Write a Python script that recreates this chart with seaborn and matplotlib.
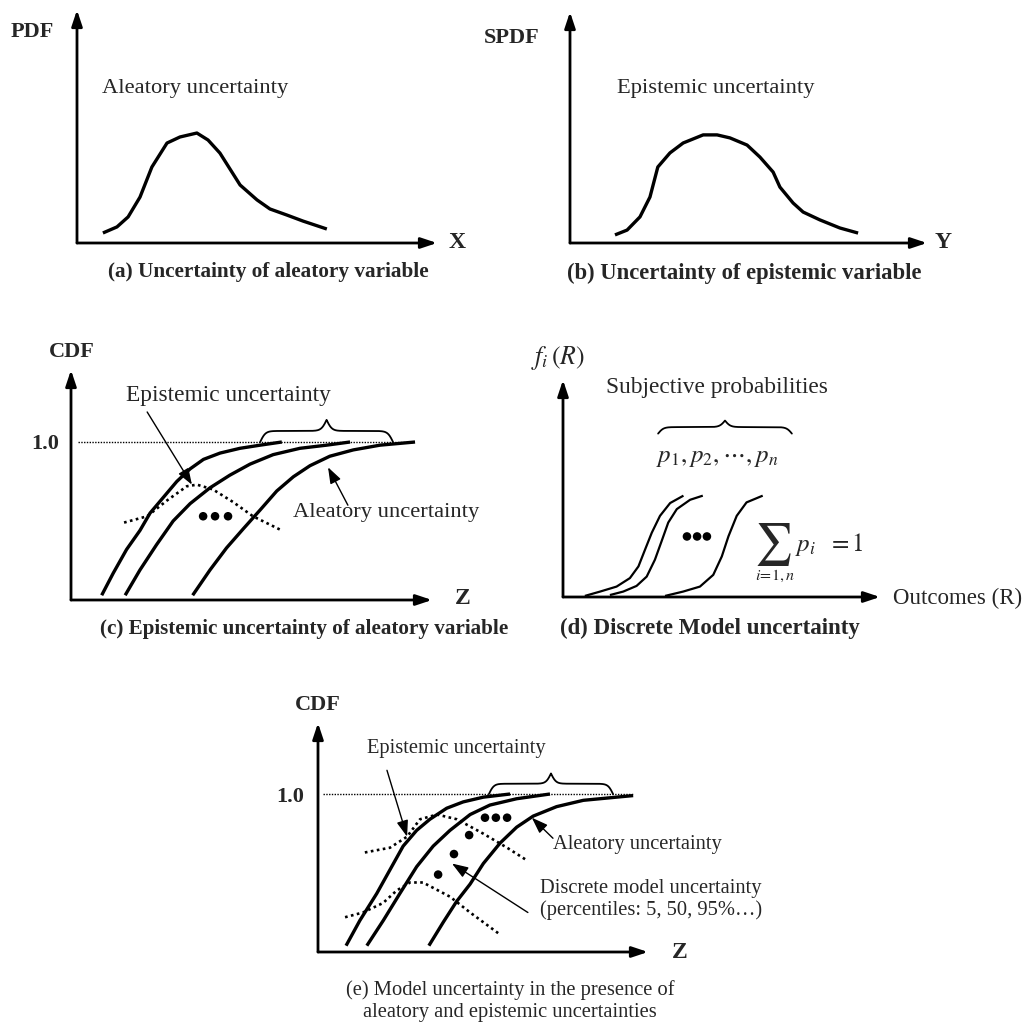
import numpy as np
import pandas as pd
import matplotlib
matplotlib.use("Agg")
import matplotlib.pyplot as plt
import seaborn as sns

# ---------------- data ----------------
# (a) PDF of an aleatory variable X
a_x = [0.72, 1.11, 1.42, 1.75, 2.08, 2.50, 2.86, 3.33, 3.64, 3.97, 4.53, 5.00, 5.36, 5.83, 6.28, 6.94]
a_pdf = [0.043, 0.069, 0.112, 0.197, 0.326, 0.429, 0.455, 0.472, 0.442, 0.386, 0.249, 0.185, 0.146, 0.120, 0.094, 0.060]

# (b) subjective PDF of an epistemic variable Y
b_y = [1.26, 1.60, 1.96, 2.24, 2.46, 2.80, 3.17, 3.73, 4.12, 4.48, 4.96, 5.32, 5.69, 5.88, 6.25, 6.53, 7.00, 7.56, 8.07]
b_spdf = [0.035, 0.056, 0.113, 0.199, 0.329, 0.390, 0.433, 0.468, 0.468, 0.455, 0.424, 0.372, 0.307, 0.242, 0.173, 0.134, 0.100, 0.065, 0.043]

# (c) family of CDFs (epistemic uncertainty of an aleatory variable)
c_z1 = [0.85, 1.17, 1.54, 1.91, 2.19, 2.56, 2.93, 3.30, 3.67, 4.13, 4.68, 5.24, 5.84]
c_cdf1 = [0.03, 0.17, 0.32, 0.44, 0.55, 0.65, 0.75, 0.83, 0.89, 0.93, 0.96, 0.98, 1.00]
c_z2 = [1.50, 1.91, 2.37, 2.83, 3.30, 3.85, 4.40, 4.96, 5.60, 6.34, 7.08, 7.73]
c_cdf2 = [0.03, 0.19, 0.35, 0.50, 0.61, 0.71, 0.79, 0.86, 0.92, 0.96, 0.98, 1.00]
c_z3 = [3.37, 3.85, 4.31, 4.77, 5.24, 5.70, 6.16, 6.62, 7.17, 7.82, 8.56, 9.53]
c_cdf3 = [0.03, 0.19, 0.33, 0.45, 0.57, 0.69, 0.78, 0.85, 0.91, 0.95, 0.98, 1.00]
c_epi_z = [1.47, 2.11, 2.66, 3.21, 3.49, 3.93, 4.49, 5.04, 5.84]
c_epi = [0.49, 0.53, 0.63, 0.72, 0.73, 0.70, 0.62, 0.53, 0.44]
c_dots_z = [3.66, 3.99, 4.35]
c_dots = [0.53, 0.53, 0.53]

# (d) discrete model outcomes
d_r1 = [0.69, 1.17, 1.69, 2.11, 2.38, 2.59, 2.80, 3.06, 3.38, 3.80]
d_f1 = [0.005, 0.025, 0.048, 0.087, 0.141, 0.219, 0.296, 0.374, 0.433, 0.467]
d_r2 = [1.48, 1.90, 2.32, 2.64, 2.90, 3.11, 3.32, 3.59, 4.01, 4.41]
d_f2 = [0.009, 0.025, 0.051, 0.094, 0.172, 0.257, 0.343, 0.405, 0.448, 0.467]
d_r3 = [3.22, 3.79, 4.32, 4.74, 5.01, 5.22, 5.48, 5.79, 6.30]
d_f3 = [0.005, 0.025, 0.048, 0.102, 0.187, 0.280, 0.374, 0.436, 0.467]
d_dots_r = [3.91, 4.23, 4.54]
d_dots = [0.279, 0.279, 0.279]

# (e) model uncertainty with aleatory and epistemic uncertainties
e_z1 = [0.85, 1.27, 1.78, 2.18, 2.58, 2.99, 3.39, 3.90, 4.40, 5.01, 5.82]
e_cdf1 = [0.04, 0.20, 0.37, 0.52, 0.67, 0.77, 0.84, 0.91, 0.95, 0.98, 1.00]
e_z2 = [1.48, 1.98, 2.48, 2.99, 3.49, 4.00, 4.61, 5.21, 6.02, 7.03]
e_cdf2 = [0.04, 0.20, 0.37, 0.54, 0.67, 0.77, 0.87, 0.93, 0.97, 1.00]
e_z3 = [3.36, 3.80, 4.20, 4.61, 5.01, 5.52, 6.02, 6.52, 7.23, 8.04, 9.55]
e_cdf3 = [0.04, 0.19, 0.32, 0.43, 0.56, 0.69, 0.79, 0.86, 0.92, 0.96, 0.99]
e_epiU_z = [1.42, 2.18, 2.70, 3.09, 3.61, 4.21, 5.00, 5.73, 6.33]
e_epiU = [0.63, 0.66, 0.73, 0.84, 0.87, 0.84, 0.75, 0.66, 0.58]
e_epiL_z = [0.82, 1.36, 1.97, 2.39, 2.79, 3.18, 4.00, 4.61, 5.52]
e_epiL = [0.22, 0.25, 0.31, 0.39, 0.44, 0.44, 0.35, 0.25, 0.11]
e_dots_z = [5.06, 5.39, 5.73, 4.58, 4.12, 3.64]
e_dots = [0.85, 0.85, 0.85, 0.74, 0.62, 0.49]

# ---------------- style ----------------
sns.set_theme(style="white")
plt.rcParams["font.family"] = ["Liberation Serif", "DejaVu Serif"]
plt.rcParams["mathtext.fontset"] = "stix"

W, H = 1031, 1025
fig = plt.figure(figsize=(W / 100, H / 100), dpi=100)
fig.patch.set_facecolor("white")

FS = 16.2
FSE = 14.8


def panel(x0, y0, x1, y1, ymax):
    """axes whose lower-left is the axis origin (x0,y0 px) and extends to arrow tips"""
    ax = fig.add_axes([x0 / W, 1 - y0 / H, (x1 - x0) / W, (y0 - y1) / H])
    ax.set_xlim(0, 10)
    ax.set_ylim(0, ymax)
    ax.axis("off")
    akw = dict(arrowstyle="-|>,head_length=0.6,head_width=0.2", lw=2.0, color="black",
               mutation_scale=16, shrinkA=0, shrinkB=0)
    ax.annotate("", xy=(1, 0), xytext=(0, 0), xycoords="axes fraction", arrowprops=akw,
                annotation_clip=False)
    ax.annotate("", xy=(0, 1), xytext=(0, 0), xycoords="axes fraction", arrowprops=akw,
                annotation_clip=False)
    return ax


def ptext(px, py, s, **kw):
    kw.setdefault("fontsize", FS)
    kw.setdefault("va", "center")
    fig.text(px / W, 1 - py / H, s, **kw)


def curve(ax, x, y, lw=2.4, dotted=False):
    ls = (0, (1, 1.3)) if dotted else "-"
    sns.lineplot(x=x, y=y, ax=ax, color="black", lw=(1.9 if dotted else lw), sort=False,
                 estimator=None, linestyle=ls, legend=False)
    ln = ax.lines[-1]
    ln.set_clip_on(False)
    ln.set_solid_joinstyle("round")
    ln.set_solid_capstyle("butt")


def brace(ax, x1, x2, ybase, h):
    n = 401
    x = np.linspace(x1, x2, n)
    half = x[: n // 2 + 1]
    beta = 50.0 / (x2 - x1)
    yh = 1 / (1 + np.exp(-beta * (half - half[0]))) + 1 / (1 + np.exp(-beta * (half - half[-1])))
    yy = np.concatenate((yh, yh[-2::-1]))
    ax.plot(x, ybase + (yy - 0.5) * h, color="black", lw=1.3, clip_on=False)


def arrow(ax, tail, head):
    ax.annotate("", xy=head, xytext=tail,
                arrowprops=dict(arrowstyle="-|>,head_length=0.7,head_width=0.25", lw=1.0,
                                color="black", mutation_scale=14, shrinkA=0, shrinkB=0),
                annotation_clip=False)


# ---------------- (a) ----------------
axa = panel(77, 243, 437, 10, 1.0)
curve(axa, a_x, a_pdf)
ptext(32, 32, "PDF", ha="center", fontweight="bold", fontsize=16)
ptext(457, 243, "X", ha="center", fontweight="bold", fontsize=17)
ptext(102, 88, "Aleatory uncertainty")
ptext(108, 272, "(a) Uncertainty of aleatory variable", fontweight="bold", fontsize=15.3)

# ---------------- (b) ----------------
axb = panel(570, 243, 927, 12, 1.0)
curve(axb, b_y, b_spdf)
ptext(512, 38, "SPDF", ha="center", fontweight="bold", fontsize=16)
ptext(943, 243, "Y", ha="center", fontweight="bold", fontsize=17)
ptext(617, 89, "Epistemic uncertainty")
ptext(567, 273, "(b) Uncertainty of epistemic variable", fontweight="bold", fontsize=16.3)

# ---------------- (c) ----------------
axc = panel(71, 600, 432, 370, 230 / 158)
axc.plot([0.19, 9.47], [1.0, 1.0], color="black", lw=1.0, ls=(0, (1, 1)))
for zz, cc in [(c_z1, c_cdf1), (c_z2, c_cdf2), (c_z3, c_cdf3)]:
    curve(axc, zz, cc)
curve(axc, c_epi_z, c_epi, dotted=True)
sns.scatterplot(x=c_dots_z, y=c_dots, ax=axc, color="black", s=38, edgecolor="none", legend=False)
brace(axc, 5.24, 8.92, 1.0, 0.14)
ptext(72, 352, "CDF", ha="center", fontweight="bold", fontsize=16)
ptext(45, 444, "1.0", ha="center", fontweight="bold", fontsize=16)
ptext(463, 598, "Z", ha="center", fontweight="bold", fontsize=17)
ptext(126, 395, "Epistemic uncertainty", fontsize=16.8)
arrow(axc, (2.11, 1.19), (3.35, 0.73))
ptext(293, 513, "Aleatory uncertainty")
arrow(axc, (7.67, 0.60), (7.12, 0.84))
ptext(100, 629, "(c) Epistemic uncertainty of aleatory variable", fontweight="bold", fontsize=15.2)

# ---------------- (d) ----------------
axd = panel(563, 597, 880, 380, 1.0)
for rr, ff in [(d_r1, d_f1), (d_r2, d_f2), (d_r3, d_f3)]:
    curve(axd, rr, ff, lw=1.6)
sns.scatterplot(x=d_dots_r, y=d_dots, ax=axd, color="black", s=38, edgecolor="none", legend=False)
brace(axd, 3.0, 7.22, 0.753, 0.06)
ptext(531, 358, r"$f_i\,(R)$", fontsize=18.5)
ptext(606, 387, "Subjective probabilities", fontsize=16.8)
ptext(656, 458, r"$p_1, p_2, \cdots, p_n$", fontsize=18)
ptext(754, 545, r"$\sum$", fontsize=30)
ptext(795, 545, r"$p_i\ \ = 1$", fontsize=18)
ptext(755, 576, r"$i\!=\!1,n$", fontsize=11.5)
ptext(893, 598, "Outcomes (R)", fontsize=16.5)
ptext(560, 628, "(d) Discrete Model uncertainty", fontweight="bold", fontsize=16.5)

# ---------------- (e) ----------------
axe = panel(318, 952, 648, 723, 229 / 158)
axe.plot([0.15, 9.55], [1.0, 1.0], color="black", lw=1.0, ls=(0, (1, 1)))
for zz, cc in [(e_z1, e_cdf1), (e_z2, e_cdf2), (e_z3, e_cdf3)]:
    curve(axe, zz, cc)
curve(axe, e_epiU_z, e_epiU, dotted=True)
curve(axe, e_epiL_z, e_epiL, dotted=True)
sns.scatterplot(x=e_dots_z, y=e_dots, ax=axe, color="black", s=38, edgecolor="none", legend=False)
brace(axe, 5.18, 8.94, 1.0, 0.13)
ptext(318, 705, "CDF", ha="center", fontweight="bold", fontsize=16)
ptext(290, 797, "1.0", ha="center", fontweight="bold", fontsize=16)
ptext(680, 952, "Z", ha="center", fontweight="bold", fontsize=17)
ptext(367, 748, "Epistemic uncertainty", fontsize=FSE)
arrow(axe, (2.09, 1.15), (2.70, 0.73))
ptext(553, 845, "Aleatory uncertainty", fontsize=FSE)
arrow(axe, (7.12, 0.72), (6.48, 0.85))
ptext(540, 888, "Discrete model uncertainty", fontsize=FSE)
ptext(540, 910, "(percentiles: 5, 50, 95%\u2026)", fontsize=FSE)
arrow(axe, (6.36, 0.25), (4.06, 0.56))
ptext(510, 990, "(e) Model uncertainty in the presence of", ha="center", fontsize=14.8)
ptext(510, 1012, "aleatory and epistemic uncertainties", ha="center", fontsize=14.8)

fig.savefig("out.png", dpi=100, facecolor="white")
